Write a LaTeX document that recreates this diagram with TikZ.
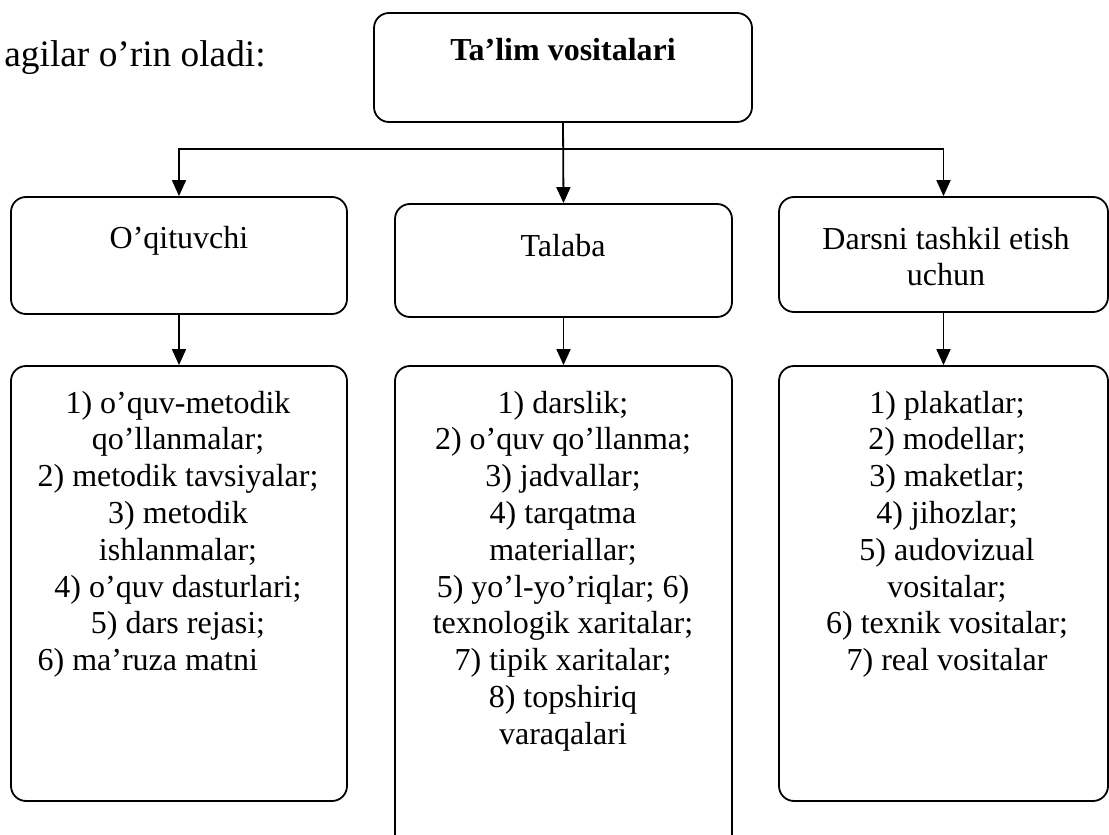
\documentclass[tikz,border=0pt]{standalone}
\usepackage{fontspec}
\setmainfont{Liberation Serif}
\usetikzlibrary{arrows.meta}

\begin{document}
\begin{tikzpicture}[x=0.5pt, y=-0.5pt,
        box/.style={draw, line width=0.9pt, rounded corners=7.5pt, inner sep=0pt},
        txt/.style={align=center, inner sep=0pt, anchor=north, font=\fontsize{16}{18.4}\selectfont},
        arr/.style={line width=0.9pt, -{Triangle[width=7pt,length=8pt]}}]
        \clip (0,0) rectangle (1109,835);

        % Text before the diagram
        \node[anchor=base west, inner sep=0pt, font=\fontsize{18.67}{21.5}\selectfont] (intro) at (4,66) {agilar o’rin oladi:};

        % Top box
        \node[box, minimum width=189pt, minimum height=54.5pt] (vosita) at (563,67.5) {};
        \node[txt] (vositaTxt) at (563,34) {\strut\textbf{Ta’lim vositalari}};

        % Middle row
        \node[box, minimum width=168pt, minimum height=58.5pt] (oqituvchi) at (179,255.5) {};
        \node[box, minimum width=168.5pt, minimum height=56.5pt] (talaba) at (563.5,260.5) {};
        \node[box, minimum width=164.5pt, minimum height=57.5pt] (darsni) at (943.5,254.5) {};
        \node[txt] (oqituvchiTxt) at (179,222) {\strut O’qituvchi};
        \node[txt] (talabaTxt) at (563,230) {\strut Talaba};
        \node[txt] (darsniTxt) at (946,223) {\strut Darsni tashkil etish\\ uchun};

        % Lists
        \node[box, minimum width=168pt, minimum height=217.5pt] (oqituvchiList) at (179,583.5) {};
        \node[box, minimum width=168.5pt, minimum height=267pt] (talabaList) at (563.5,633) {};
        \node[box, minimum width=164.5pt, minimum height=217.5pt] (darsniList) at (943.5,583.5) {};
        \node[txt] (oqituvchiListTxt) at (178,387) {\begin{tabular}{@{}c@{}}1) o’quv-metodik\\ qo’llanmalar;\\ 2) metodik tavsiyalar;\\ 3) metodik\\ ishlanmalar;\\ 4) o’quv dasturlari;\\ 5) dars rejasi;\\ \multicolumn{1}{@{}l@{}}{6) ma’ruza matni}\end{tabular}};
        \node[txt] (talabaListTxt) at (563,387) {\strut 1) darslik;\\ 2) o’quv qo’llanma;\\ 3) jadvallar;\\ 4) tarqatma\\ materiallar;\\ 5) yo’l-yo’riqlar; 6)\\ texnologik xaritalar;\\ 7) tipik xaritalar;\\ 8) topshiriq\\ varaqalari};
        \node[txt] (darsniListTxt) at (947,387) {\strut 1) plakatlar;\\ 2) modellar;\\ 3) maketlar;\\ 4) jihozlar;\\ 5) audovizual\\ vositalar;\\ 6) texnik vositalar;\\ 7) real vositalar};

        % Arrows
        \coordinate (bus) at (563,149);
        \draw[arr] (vosita.south) -- (talaba.north);
        \draw[arr] (bus) -| (oqituvchi.north);
        \draw[arr] (bus) -| (darsni.north);
        \draw[arr] (oqituvchi.south) -- (oqituvchiList.north);
        \draw[arr] (talaba.south) -- (talabaList.north);
        \draw[arr] (darsni.south) -- (darsniList.north);
    \end{tikzpicture}
\end{document}
